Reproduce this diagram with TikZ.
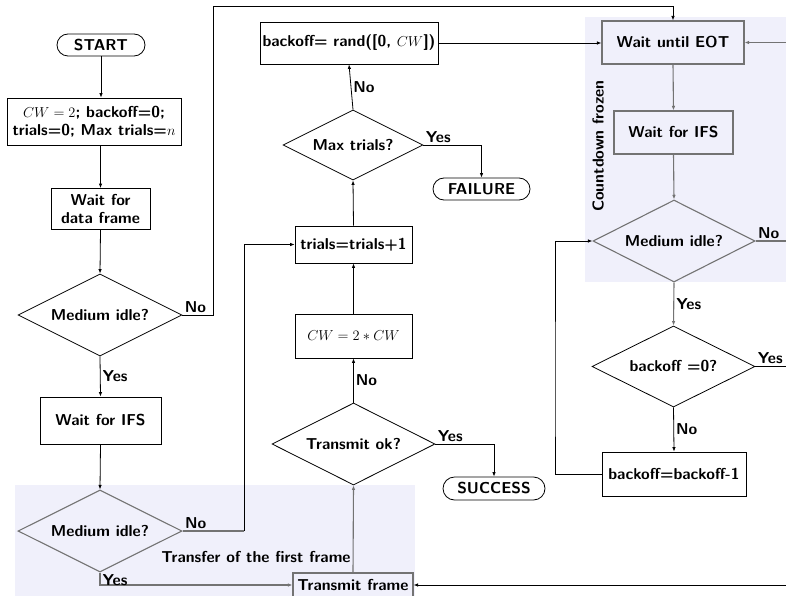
\documentclass[tikz,border=0pt]{standalone}
\usetikzlibrary{shapes.geometric,shapes.misc,arrows.meta,calc}
\definecolor{bgshade}{RGB}{240,240,251}
\definecolor{gline}{RGB}{115,115,115}
\begin{document}
\begin{tikzpicture}[x=1pt,y=-1pt,
  font=\fontsize{15.8}{18.3}\selectfont\sffamily\bfseries,
  every node/.style={inner sep=0pt, align=center},
  box/.style={draw=black, line width=0.8pt, rectangle},
  gbox/.style={draw=gline, line width=1.1pt, rectangle},
  dec/.style={draw=black, line width=0.8pt, diamond, aspect=2, minimum width=164pt, minimum height=82pt},
  gdec/.style={dec, draw=gline, line width=1.1pt},
  term/.style={draw=black, line width=0.8pt, rounded rectangle, minimum height=22pt},
  conn/.style={line width=0.8pt, draw=black},
  gconn/.style={line width=1.1pt, draw=gline},
  arr/.style={-{Latex[length=4.5pt,width=3.5pt]}},
  lbl/.style={inner sep=2pt}
]
\useasboundingbox (0,0) rectangle (786,596);

% shaded regions
\fill[bgshade] (15,485) rectangle (415,596);
\fill[bgshade] (585,17) rectangle (786,282);

% left column
\node[term, minimum width=88pt] (start) at (101,45) {START};
\node[box, minimum width=174pt, minimum height=47pt] (init) at (94,121.5)
  {$CW=2$; backoff=0;\\ trials=0; Max trials=$n$};
\node[box, minimum width=99pt, minimum height=41pt] (wdata) at (100.5,209) {Wait for\\ data frame};
\node[dec] (idle1) at (100,315) {Medium idle?};
\node[box, minimum width=121pt, minimum height=47pt] (ifs1) at (100.5,420.5) {Wait for IFS};
\node[gdec] (idle2) at (100,531) {Medium idle?};

% middle column
\node[box, minimum width=178pt, minimum height=42pt] (rand) at (349,43) {backoff= rand([0, $CW$])};
\node[dec, minimum width=140pt, minimum height=70pt] (maxt) at (353,145) {Max trials?};
\node[term, minimum width=97pt] (fail) at (481.5,189) {FAILURE};
\node[box, minimum width=117pt, minimum height=37pt] (trials) at (353.5,244.5) {trials=trials+1};
\node[box, minimum width=117pt, minimum height=44pt] (cw) at (353.5,336) {$CW=2*CW$};
\node[dec, minimum width=163pt] (tok) at (353.5,444) {Transmit ok?};
\node[term, minimum width=102pt, minimum height=23pt] (succ) at (494,488.5) {SUCCESS};
\node[gbox, minimum width=120pt, minimum height=24pt] (tx) at (353,585) {Transmit frame};
\node (transfer) at (256,557) {Transfer of the first frame};

% right column
\node[gbox, minimum width=142pt, minimum height=43pt] (eot) at (673,42.5) {Wait until EOT};
\node[gbox, minimum width=119pt, minimum height=43pt] (ifs2) at (673.5,132.5) {Wait for IFS};
\node[gdec, minimum width=162pt] (idle3) at (674,241) {Medium idle?};
\node[rotate=90] (frozen) at (598,146) {Countdown frozen};
\node[dec, minimum width=163pt, minimum height=81pt] (bz) at (673.5,366.5) {backoff =0?};
\node[box, minimum width=144pt, minimum height=44pt] (dec) at (674,474) {backoff=backoff-1};

% routing points
\coordinate (topjog) at (213,6);
\coordinate (nojog) at (244,400);
\coordinate (loopjog) at (555,400);
\coordinate (eotin) at (786,42.5);
\coordinate (idleout) at (786,241);
\coordinate (bzout) at (786,366.5);
\coordinate (txin) at (786,585);

% connectors
\draw[conn,arr] (start.south) -- (start.south |- init.north);
\draw[conn,arr] (wdata.north |- init.south) -- (wdata.north);
\draw[conn,arr] (wdata.south) -- (idle1.north);
\draw[conn,arr] (idle1.east) node[lbl, above right] {No} -| (topjog) -| (eot.north);
\draw[conn,arr] (idle1.south) -- node[lbl, right] {Yes} (ifs1.north);
\draw[conn,arr] (ifs1.south) -- (idle2.north);
\draw[gconn] (idle2.east) node[lbl, above right] {No} -- (idle2.east -| nojog);
\draw[conn,arr] (idle2.east -| nojog) |- (trials.west);
\draw[gconn,arr] (idle2.south) node[lbl, below right, yshift=1pt] {Yes} |- (tx.west);
\draw[gconn,arr] (tx.north) -- (tok.south);
\draw[conn,arr] (tok.east) node[lbl, above right] {Yes} -| (succ.north);
\draw[conn,arr] (tok.north) -- node[lbl, right, pos=0.5] {No} (cw.south);
\draw[conn,arr] (cw.north) -- (trials.south);
\draw[conn,arr] (trials.north) -- (maxt.south);
\draw[conn,arr] (maxt.east) node[lbl, above right] {Yes} -| (fail.north);
\draw[conn,arr] (maxt.north) -- node[lbl, right] {No} (rand.south);
\draw[conn,arr] (rand.east) -- (rand.east -| eot.west);
\draw[gconn,arr] (eot.south) -- (ifs2.north);
\draw[gconn,arr] (ifs2.south) -- (idle3.north);
\draw[gconn] (idle3.east) node[lbl, above right] {No} -- (idleout);
\draw[gconn,arr] (eotin) -- (eot.east);
\draw[gconn,arr] (idle3.south) -- node[lbl, right] {Yes} (bz.north);
\draw[conn] (bz.east) node[lbl, above right] {Yes} -- (bzout);
\draw[conn,arr] (bz.south) -- node[lbl, right] {No} (dec.north);
\draw[conn,arr] (dec.west) -| (loopjog) |- (idle3.west);
\draw[conn,arr] (txin) -- (tx.east);
\end{tikzpicture}
\end{document}
